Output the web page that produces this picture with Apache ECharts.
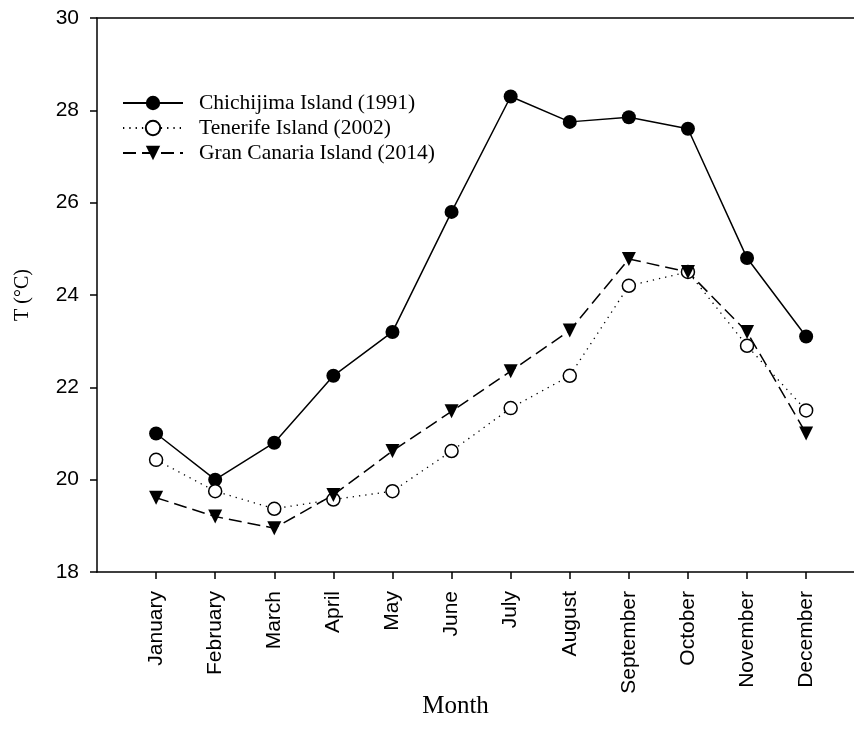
<!DOCTYPE html>
<html>
<head>
<meta charset="utf-8">
<script src="https://cdn.jsdelivr.net/npm/echarts@6/dist/echarts.min.js"></script>
<style>html,body{margin:0;padding:0;background:#fff;}#c{width:854px;height:742px;}</style>
</head>
<body>
<div id="c"></div>
<script>
var months = ['January','February','March','April','May','June','July','August','September','October','November','December'];
var monthPos = [1,2,3,4,5,6,7,8,9,10,11,12];
var chichijima = [21.0, 20.0, 20.8, 22.25, 23.2, 25.8, 28.3, 27.75, 27.85, 27.6, 24.8, 23.1];
var tenerife = [20.43, 19.75, 19.37, 19.57, 19.75, 20.62, 21.55, 22.25, 24.2, 24.5, 22.9, 21.5];
var granCanaria = [19.61, 19.2, 18.95, 19.67, 20.62, 21.48, 22.35, 23.23, 24.78, 24.5, 23.2, 21.0];
var yTicks = [18, 20, 22, 24, 26, 28, 30];

function pairs(vals){ return vals.map(function(v,i){ return [monthPos[i], v]; }); }

var chart = echarts.init(document.getElementById('c'));
chart.setOption({
  backgroundColor: '#fff',
  animation: false,
  grid: { left: 97, top: 18, right: 0, height: 554 },
  legend: {
    orient: 'vertical', left: 122, top: 92, padding: 0, itemWidth: 60, itemHeight: 18, itemGap: 3,
    textStyle: { fontFamily: 'Liberation Serif', fontSize: 21.5, color: '#000', padding: [0,0,0,11] },
    data: ['Chichijima Island (1991)', 'Tenerife Island (2002)', 'Gran Canaria Island (2014)']
  },
  xAxis: [{
    type: 'value', min: 0, max: 12.81, interval: 1,
    name: 'Month', nameLocation: 'middle', nameGap: 122, nameMoveOverlap: false,
    nameTextStyle: { fontFamily: 'Liberation Serif', fontSize: 25, color: '#000', padding: [0, 40, 0, 0] },
    axisLine: { show: true, onZero: false, lineStyle: { color: '#000', width: 1.5 } },
    axisTick: { show: true, length: 7, inside: false, customValues: monthPos, lineStyle: { color: '#000', width: 1.5 } },
    axisLabel: { customValues: monthPos, rotate: 90, margin: 19, fontFamily: 'Liberation Sans', fontSize: 21, color: '#000',
      formatter: function(v){ return months[Math.round(v)-1] || ''; } },
    splitLine: { show: false }
  }, {
    type: 'value', position: 'top', min: 0, max: 12.81,
    axisLine: { show: true, onZero: false, lineStyle: { color: '#000', width: 1.5 } },
    axisTick: { show: false }, axisLabel: { show: false }, splitLine: { show: false }
  }],
  yAxis: {
    type: 'value', min: 18, max: 30, interval: 2,
    name: 'T (°C)', nameLocation: 'middle', nameGap: 64,
    nameTextStyle: { fontFamily: 'Liberation Serif', fontSize: 20, color: '#000' },
    axisLine: { show: true, lineStyle: { color: '#000', width: 1.5 } },
    axisTick: { show: true, length: 7, inside: false, lineStyle: { color: '#000', width: 1.5 } },
    axisLabel: { margin: 18, fontFamily: 'Liberation Sans', fontSize: 21, color: '#000',
      formatter: function(v){ return yTicks.indexOf(v) >= 0 ? String(v) : ''; } },
    splitLine: { show: false }
  },
  series: [
    { name: 'Chichijima Island (1991)', type: 'line', data: pairs(chichijima),
      symbol: 'circle', symbolSize: 14,
      lineStyle: { color: '#000', width: 1.5, type: 'solid' },
      itemStyle: { color: '#000', borderColor: '#000', borderWidth: 0 } },
    { name: 'Tenerife Island (2002)', type: 'line', data: pairs(tenerife),
      symbol: 'circle', symbolSize: 13,
      lineStyle: { color: '#000', width: 1.3, type: [1.3, 5] },
      itemStyle: { color: '#fff', borderColor: '#000', borderWidth: 1.5 } },
    { name: 'Gran Canaria Island (2014)', type: 'line', data: pairs(granCanaria),
      symbol: 'triangle', symbolSize: 14, symbolRotate: 180,
      lineStyle: { color: '#000', width: 1.5, type: [13, 6] },
      itemStyle: { color: '#000', borderColor: '#000', borderWidth: 0 } }
  ]
});
</script>
</body>
</html>
